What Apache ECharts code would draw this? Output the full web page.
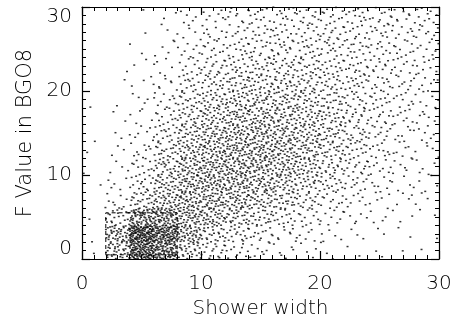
<!DOCTYPE html>
<html>
<head>
<meta charset="utf-8">
<script src="https://cdn.jsdelivr.net/npm/echarts@6/dist/echarts.min.js"></script>
<style>
  html, body { margin: 0; padding: 0; background: #fff; }
  #chart { width: 452px; height: 327px; }
</style>
</head>
<body>
<div id="chart"></div>
<script>
// point counts, per 2x2 cell
// columns: x = 0-2, 2-4, ..., 28-30 ; rows: y = 0-2 (first) up to 28-30 (last)
const xEdges = [0, 2, 4, 6, 8, 10, 12, 14, 16, 18, 20, 22, 24, 26, 28, 30]
const yEdges = [0, 2, 4, 6, 8, 10, 12, 14, 16, 18, 20, 22, 24, 26, 28, 30]
const cellCounts = [
  [1, 35, 110, 80, 28, 16, 12, 8, 6, 4, 3, 2, 2, 1, 1],
  [1, 45, 130, 100, 45, 24, 18, 13, 9, 7, 5, 3, 2, 2, 1],
  [1, 20, 60, 60, 44, 36, 29, 22, 16, 12, 8, 6, 4, 3, 2],
  [1, 8, 24, 36, 42, 41, 36, 30, 24, 18, 12, 8, 6, 4, 3],
  [1, 5, 15, 29, 40, 43, 41, 36, 30, 23, 17, 12, 8, 5, 4],
  [1, 4, 11, 25, 36, 42, 43, 41, 35, 28, 20, 14, 10, 6, 5],
  [1, 3, 9, 20, 32, 38, 42, 41, 36, 30, 23, 16, 11, 7, 5],
  [1, 2, 7, 16, 27, 34, 38, 38, 35, 30, 24, 17, 12, 8, 6],
  [0, 2, 5, 12, 22, 29, 33, 33, 31, 27, 22, 17, 12, 9, 7],
  [1, 1, 4, 10, 18, 24, 28, 28, 27, 24, 20, 16, 13, 9, 7],
  [0, 1, 3, 8, 14, 19, 22, 23, 23, 21, 18, 15, 12, 10, 8],
  [0, 1, 2, 5, 11, 14, 17, 18, 19, 18, 16, 14, 12, 10, 8],
  [0, 0, 2, 4, 8, 12, 13, 14, 15, 15, 14, 13, 12, 10, 8],
  [0, 0, 1, 3, 6, 9, 11, 12, 13, 13, 13, 12, 11, 10, 9],
  [0, 0, 1, 2, 5, 7, 9, 11, 12, 12, 12, 12, 11, 10, 9]
]
// dashed selection box
const boxX = [2, 8]
const boxY = [0.5, 5.5]

// Halton sequence, used only to spread a cell's count evenly inside the cell
function halton(index, base) {
  let f = 1, r = 0
  while (index > 0) {
    f = f / base
    r = r + f * (index % base)
    index = Math.floor(index / base)
  }
  return r
}

const points = []
cellCounts.forEach((row, j) => {
  row.forEach((n, i) => {
    const x0 = xEdges[i], x1 = xEdges[i + 1]
    const y0 = yEdges[j], y1 = yEdges[j + 1]
    const start = 1 + ((i * 37 + j * 53) % 97)
    for (let k = 0; k < n; k++) {
      const u = halton(start + k, 2)
      const v = halton(start + k, 3)
      points.push([x0 + u * (x1 - x0), y0 + v * (y1 - y0)])
    }
  })
})

const font = 'DejaVu Sans'
const textColor = '#000'

function makeAxis(position, extra) {
  return Object.assign({
    type: 'value',
    position: position,
    min: 0,
    max: 30,
    interval: 10,
    z: 5,
    axisLine: { show: true, onZero: false, lineStyle: { color: '#000', width: 1.2 } },
    axisTick: { show: true, inside: true, length: 8, lineStyle: { color: '#000', width: 1.2 } },
    minorTick: { show: true, splitNumber: 10, length: 4, lineStyle: { color: '#000', width: 1 } },
    splitLine: { show: false },
    axisLabel: { show: false }
  }, extra)
}

const chart = echarts.init(document.getElementById('chart'))
chart.setOption({
  animation: false,
  backgroundColor: '#fff',
  grid: { left: 82, right: 13, top: 7, bottom: 68, outerBoundsMode: 'none' },
  xAxis: [
    makeAxis('bottom', {
      name: 'Shower width',
      nameLocation: 'middle',
      nameGap: 33,
      nameTextStyle: { fontFamily: font, fontSize: 20, fontWeight: 200, color: textColor },
      axisLabel: { show: true, fontFamily: font, fontSize: 20, fontWeight: 200, color: textColor, margin: 15 }
    }),
    makeAxis('top')
  ],
  yAxis: [
    makeAxis('left', {
      name: 'F Value in BGO8',
      nameLocation: 'middle',
      nameGap: 46,
      nameTextStyle: { fontFamily: font, fontSize: 21, fontWeight: 200, color: textColor },
      axisLabel: {
        show: true, fontFamily: font, fontSize: 20, fontWeight: 200, color: textColor, margin: 10,
        verticalAlignMaxLabel: 'top', verticalAlignMinLabel: 'bottom'
      }
    }),
    makeAxis('right')
  ],
  series: [
    {
      type: 'scatter',
      data: points,
      symbol: 'rect',
      symbolSize: [2, 1.5],
      itemStyle: { color: '#000' },
      progressive: 0,
      silent: true,
      markArea: {
        silent: true,
        itemStyle: { color: 'rgba(0,0,0,0)', borderColor: '#000', borderWidth: 1, borderType: [4, 3] },
        data: [[{ coord: [boxX[0], boxY[0]] }, { coord: [boxX[1], boxY[1]] }]]
      }
    }
  ]
})
</script>
</body>
</html>
